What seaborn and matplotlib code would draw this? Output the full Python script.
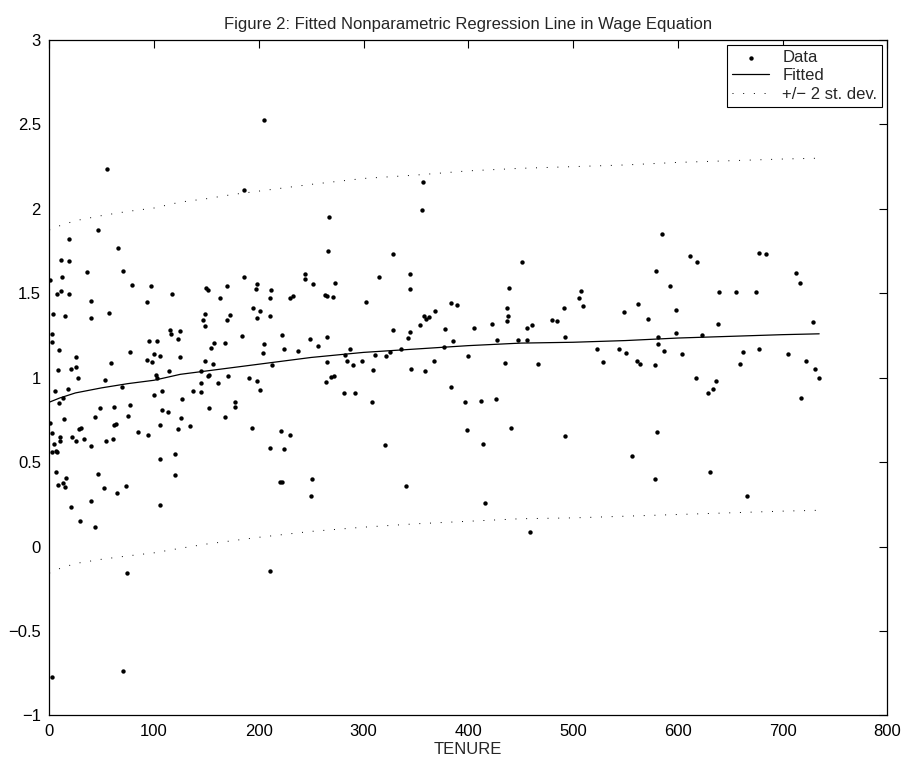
import numpy as np
import pandas as pd
import seaborn as sns
from matplotlib import pyplot as plt

# scatter data: tenure vs. wage residual
tenure = [
    54.8, 46.2, 19.1, 65.9, 10.9, 19.1, 36, 70.1, 1, 11.8, 79, 7.6, 11.2, 19.1, 39.8, 93,
    3.8, 15, 57, 39.8, 2.3, 2.3, 9.3, 95.5, 25.2, 76.8, 93.6, 58.9, 8, 21, 25.2, 27.1,
    52.9, 5.2, 17.9, 69.2, 9.3, 13.1, 48.1, 62.1, 76.8, 14, 43.9, 74.9, 28.3, 30.2, 61.8,
    64.1, 1, 2.3, 84.7, 94.6, 10.2, 22, 4.2, 10.2, 25.2, 33.1, 40.1, 54.2, 60.8,
    2.9, 6.4, 7.4, 6.1, 46.2, 8.3, 13.1, 15, 16, 52, 65, 73, 21, 40.1, 29.3, 43.9, 73.9,
    70.1, 2.9,
    186, 186, 97.1, 116.9, 150, 151.3, 169.7, 162.7, 148.7, 172.6, 146.8, 169.7, 148.7,
    115, 116, 124.8, 183.8, 102.9, 122.9, 157, 168.1, 154.7, 99.7, 106, 124.8, 98.1,
    148.7, 156.1, 114, 144.9, 101.9, 103.2, 151.3, 152.8, 171, 190.7, 144.9, 160.8, 100,
    107.9, 126.7, 137, 144.9, 177.4, 107.6, 113.1, 152.8, 177.1, 125.8, 168.1, 106, 122.9,
    134.1,
    106, 120, 120, 106,
    204.8, 266.9, 265.9, 244.2, 244.2, 198.1, 197.1, 211.7, 211.1, 251.9, 272.9, 229.9,
    232.8, 263.6, 264.9, 271, 194.8, 200.9, 198.1, 211.1, 222, 204.8, 248.7, 264.9, 223.9,
    256.6, 203.8, 237.8, 286.9, 212.7, 282.1, 264.9, 284.6, 290.1, 198.1, 268.8, 271.9,
    264, 200.9, 281.8, 292, 193.9, 221.6, 229.9, 211.1, 223.9,
    220.3, 222.3, 250.6, 249.7, 211.1,
    356.6, 355.7, 328.6, 314.9, 344.5, 344.5, 302.5, 383.7, 389.4, 368.7, 357.6, 359.8,
    362.7, 354.3, 422.5, 328.6, 344.5, 377.6, 405.6, 342.6, 385.6, 427.6, 335.6, 376.7,
    325.7, 310.8, 321.6, 399.6, 299, 308.9, 345.8, 358.8, 367.7, 308, 383.7, 396.8, 412.6,
    426.4, 398.7, 320.6, 414.5,
    340.7, 415.5,
    451.5, 438.8, 507.5, 505.6, 509.5, 562.3, 437.4, 491.6, 548.6, 438.4, 437.4, 480.4,
    484.6, 460.4, 455.6, 447.4, 456.5, 492.6, 522.5, 543.5, 550.5, 528.6, 561.3, 563.5,
    434.6, 466.8, 440.7, 492.6,
    556.5, 458.5,
    585.2, 611.3, 618.3, 677.2, 579.2, 592.2, 639, 655.2, 674.4, 571.2, 598.3, 638.4,
    581.1, 581.4, 598.3, 623.4, 587.3, 604.3, 662.3, 677.9, 578.2, 659.4, 617.4, 636.5,
    633.2, 629.1, 580.4,
    578.2, 631, 666.1,
    684, 713, 717, 705, 722, 718, 729, 731, 735,
]
wage = [
    2.236, 1.873, 1.82, 1.77, 1.697, 1.69, 1.628, 1.634, 1.579, 1.595, 1.549, 1.496, 1.516,
    1.494, 1.456, 1.448, 1.379, 1.367, 1.381, 1.354, 1.257, 1.211, 1.166, 1.219, 1.124,
    1.15, 1.103, 1.087, 1.044, 1.053, 1.065, 1.0, 0.984, 0.921, 0.935, 0.943, 0.85, 0.878,
    0.82, 0.824, 0.838, 0.757, 0.769, 0.771, 0.696, 0.704, 0.72, 0.726, 0.73, 0.67, 0.677,
    0.66, 0.649, 0.65, 0.607, 0.623, 0.625, 0.635, 0.597, 0.625, 0.635,
    0.558, 0.567, 0.561, 0.441, 0.43, 0.364, 0.374, 0.35, 0.408, 0.348, 0.32, 0.36, 0.232,
    0.271, 0.153, 0.114, -0.155, -0.736, -0.775,
    2.11, 1.595, 1.541, 1.496, 1.531, 1.518, 1.543, 1.47, 1.377, 1.37, 1.34, 1.344, 1.304,
    1.28, 1.26, 1.275, 1.249, 1.217, 1.227, 1.204, 1.207, 1.174, 1.14, 1.127, 1.123, 1.093,
    1.101, 1.083, 1.04, 1.038, 1.018, 0.998, 1.01, 1.016, 1.01, 0.996, 0.967, 0.967, 0.896,
    0.919, 0.876, 0.919, 0.917, 0.854, 0.81, 0.797, 0.822, 0.826, 0.759, 0.767, 0.72, 0.698,
    0.716,
    0.518, 0.546, 0.422, 0.248,
    2.527, 1.95, 1.749, 1.616, 1.586, 1.555, 1.527, 1.521, 1.474, 1.553, 1.563, 1.474,
    1.484, 1.492, 1.482, 1.478, 1.411, 1.395, 1.354, 1.368, 1.253, 1.198, 1.229, 1.239,
    1.17, 1.188, 1.145, 1.156, 1.172, 1.073, 1.136, 1.093, 1.097, 1.077, 0.979, 1.006,
    1.01, 0.973, 0.929, 0.911, 0.911, 0.704, 0.686, 0.659, 0.582, 0.576,
    0.38, 0.38, 0.4, 0.297, -0.147,
    2.158, 1.992, 1.735, 1.598, 1.616, 1.525, 1.448, 1.444, 1.431, 1.393, 1.366, 1.348,
    1.358, 1.312, 1.318, 1.281, 1.271, 1.29, 1.294, 1.237, 1.217, 1.225, 1.172, 1.184,
    1.15, 1.136, 1.127, 1.127, 1.101, 1.047, 1.052, 1.041, 1.097, 0.856, 0.947, 0.858,
    0.864, 0.874, 0.688, 0.6, 0.607,
    0.357, 0.258,
    1.687, 1.533, 1.514, 1.474, 1.423, 1.437, 1.413, 1.411, 1.387, 1.367, 1.336, 1.34,
    1.338, 1.312, 1.296, 1.223, 1.222, 1.241, 1.168, 1.17, 1.148, 1.095, 1.101, 1.081,
    1.085, 1.079, 0.704, 0.656,
    0.536, 0.084,
    1.851, 1.723, 1.687, 1.737, 1.632, 1.541, 1.508, 1.508, 1.508, 1.348, 1.403, 1.318,
    1.239, 1.201, 1.265, 1.253, 1.158, 1.139, 1.154, 1.168, 1.077, 1.081, 0.996, 0.98,
    0.933, 0.909, 0.68,
    0.402, 0.443, 0.297,
    1.73, 1.62, 1.56, 1.14, 1.1, 0.88, 1.33, 1.05, 1.0,
]

# fitted nonparametric curve and +/- 2 st. dev. band
fit_x = [0, 10, 25, 50, 75, 100, 125, 150, 175, 200, 250, 300, 350, 400, 450, 500,
         550, 600, 650, 700, 735]
fit_y = [0.855, 0.88, 0.91, 0.94, 0.965, 0.985, 1.02, 1.04, 1.06, 1.08, 1.12, 1.15,
         1.17, 1.19, 1.205, 1.21, 1.22, 1.235, 1.245, 1.255, 1.26]
upper = [1.875, 1.9, 1.93, 1.96, 1.985, 2.005, 2.04, 2.06, 2.085, 2.105, 2.145, 2.18,
         2.2, 2.225, 2.24, 2.25, 2.26, 2.275, 2.285, 2.295, 2.3]
lower = [-0.157, -0.13, -0.1, -0.075, -0.055, -0.037, -0.01, 0.015, 0.035, 0.055, 0.09,
         0.115, 0.135, 0.15, 0.165, 0.17, 0.18, 0.19, 0.2, 0.21, 0.215]

xticks = [0, 100, 200, 300, 400, 500, 600, 700, 800]
yticks = [-1, -0.5, 0, 0.5, 1, 1.5, 2, 2.5, 3]
ytick_labels = ['\u22121', '\u22120.5', '0', '0.5', '1', '1.5', '2', '2.5', '3']

sns.set_style('white')
plt.rcParams['font.family'] = ['Liberation Sans', 'DejaVu Sans']

fig = plt.figure(figsize=(9.04, 7.63), dpi=100)
ax = fig.add_axes([0.0545, 0.0623, 0.927, 0.8853])

df = pd.DataFrame({'tenure': tenure, 'wage': wage})
sns.scatterplot(data=df, x='tenure', y='wage', ax=ax, color='black', s=10,
                linewidth=0, marker='o', label='Data')
band = pd.DataFrame({'x': fit_x, 'fit': fit_y, 'up': upper, 'lo': lower})
sns.lineplot(data=band, x='x', y='fit', ax=ax, color='black', linewidth=0.9,
             label='Fitted')
sns.lineplot(data=band, x='x', y='up', ax=ax, color='black', linewidth=0.7,
             linestyle=(0, (1, 10)), label='+/\u2212 2 st. dev.')
sns.lineplot(data=band, x='x', y='lo', ax=ax, color='black', linewidth=0.7,
             linestyle=(0, (1, 10)))

ax.set_xlim(0, 800)
ax.set_ylim(-1, 3)
ax.set_xticks(xticks)
ax.set_xticklabels([str(t) for t in xticks])
ax.set_yticks(yticks)
ax.set_yticklabels(ytick_labels)
ax.tick_params(direction='in', length=6, width=0.8, labelsize=12,
               top=True, right=True, pad=6, colors='black')
for s in ax.spines.values():
    s.set_color('black')
    s.set_linewidth(0.9)

ax.set_xlabel('TENURE', fontsize=12, labelpad=2)
ax.set_ylabel('')
ax.set_title('Figure 2: Fitted Nonparametric Regression Line in Wage Equation',
             fontsize=12, pad=8)

leg = ax.legend(loc='upper right', fontsize=12, frameon=True, fancybox=False,
                edgecolor='black', framealpha=1, borderaxespad=0.3,
                handlelength=2.2, markerscale=1.0, borderpad=0.3, labelspacing=0.2)
leg.get_frame().set_linewidth(0.8)

plt.savefig('out.png', dpi=100)
